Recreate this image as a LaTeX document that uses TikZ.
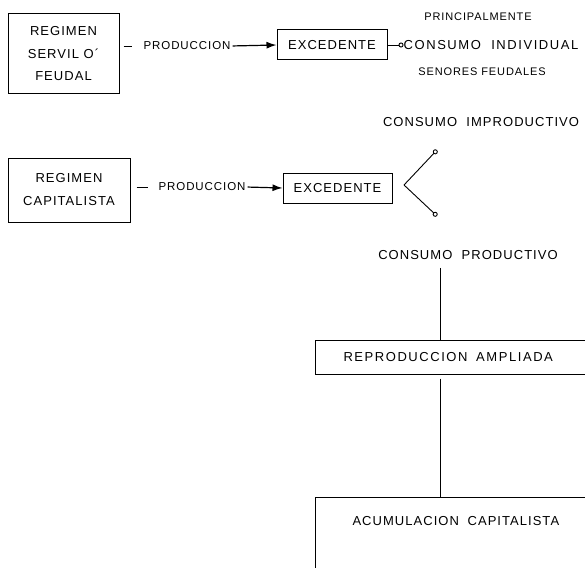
\documentclass[tikz,border=0pt]{standalone}
\usepackage{fontspec}
\setmainfont{Liberation Sans}
\newfontfamily\maquina[LetterSpace=8]{Liberation Sans}
\newfontfamily\maquinaAncha[LetterSpace=12]{Liberation Sans}
\usetikzlibrary{positioning}
\usetikzlibrary{arrows.meta}

\begin{document}
\begin{tikzpicture}[x=1pt,y=-1pt]

          \tikzstyle{texto} = [inner sep=0pt, align=center, font=\maquina\fontsize{13}{22.5}\selectfont];
          \tikzstyle{textoAncho} = [inner sep=0pt, font=\maquinaAncha\fontsize{13}{22.5}\selectfont];
          \tikzstyle{textoChico} = [inner sep=0pt, font=\maquina\fontsize{11.5}{14}\selectfont];
          \tikzstyle{textoMenor} = [inner sep=0pt, font=\maquina\fontsize{11}{13}\selectfont];
          \tikzstyle{caja} = [draw, line width=1pt, inner sep=0pt];
          \tikzstyle{linea} = [line width=0.9pt];
          \tikzstyle{flecha} = [line width=1.2pt, -{Latex[length=10pt,width=7pt]}];
          \tikzstyle{rama} = [line width=0.9pt, -{Circle[open,length=5pt]}];

          \useasboundingbox (0,0) rectangle (585,567);

          \node[caja, texto, minimum width=111, minimum height=80] (servil) at (63.5,54) {REGIMEN\\SERVIL O´\\FEUDAL};
          \node[textoChico] (prodA) at (187,46) {PRODUCCION};
          \node[caja, texto, minimum width=110, minimum height=30] (excA) at (332,45) {EXCEDENTE};
          \node[textoMenor] (princ) at (478,17) {PRINCIPALMENTE};
          \node[textoAncho] (consInd) at (491,45) {CONSUMO~~INDIVIDUAL};
          \node[textoMenor] (senores) at (482,72) {SENORES FEUDALES};

          \node[caja, texto, minimum width=122, minimum height=64, font=\maquina\fontsize{13}{23}\selectfont] (capital) at (69,190) {REGIMEN\\CAPITALISTA};
          \node[textoChico] (prodB) at (202,187) {PRODUCCION};
          \node[caja, texto, minimum width=109, minimum height=30] (excB) at (337.5,188) {EXCEDENTE};
          \coordinate (vertice) at (404,185);
          \coordinate (puntaSup) at (437,150);
          \coordinate (puntaInf) at (437,216);
          \node[texto] (improd) at (481,122) {CONSUMO~~IMPRODUCTIVO};
          \node[texto] (prodc) at (468,255) {CONSUMO~~PRODUCTIVO};

          \coordinate (eje) at (440,0);
          \node[caja, textoAncho, minimum height=34, anchor=west, text width=229, align=left, inner xsep=28] (reprod) at (315,357) {REPRODUCCION~~AMPLIADA};
          \node[caja, texto, anchor=base west, text width=230, align=left, inner xsep=37, inner ysep=19, text depth=60] (acum) at (315,525.7) {ACUMULACION~~CAPITALISTA};

          \draw[linea, shorten <=4, shorten >=11] (servil.east |- prodA) -- (prodA.west);
          \draw[flecha, shorten <=2] (prodA.east) -- (excA.west);
          \draw[rama] (excA.east) -- (consInd.west);

          \draw[linea, shorten <=6, shorten >=10] (capital.east |- prodB) -- (prodB.west);
          \draw[flecha, shorten <=2] (prodB.east) -- (excB.west);
          \draw[rama] (vertice) -- (puntaSup);
          \draw[rama] (vertice) -- (puntaInf);

          \draw[linea, shorten <=8] (prodc.south -| eje) -- (reprod.north -| eje);
          \draw[linea, shorten <=4] (reprod.south -| eje) -- (acum.north -| eje);
        \end{tikzpicture}
\end{document}
